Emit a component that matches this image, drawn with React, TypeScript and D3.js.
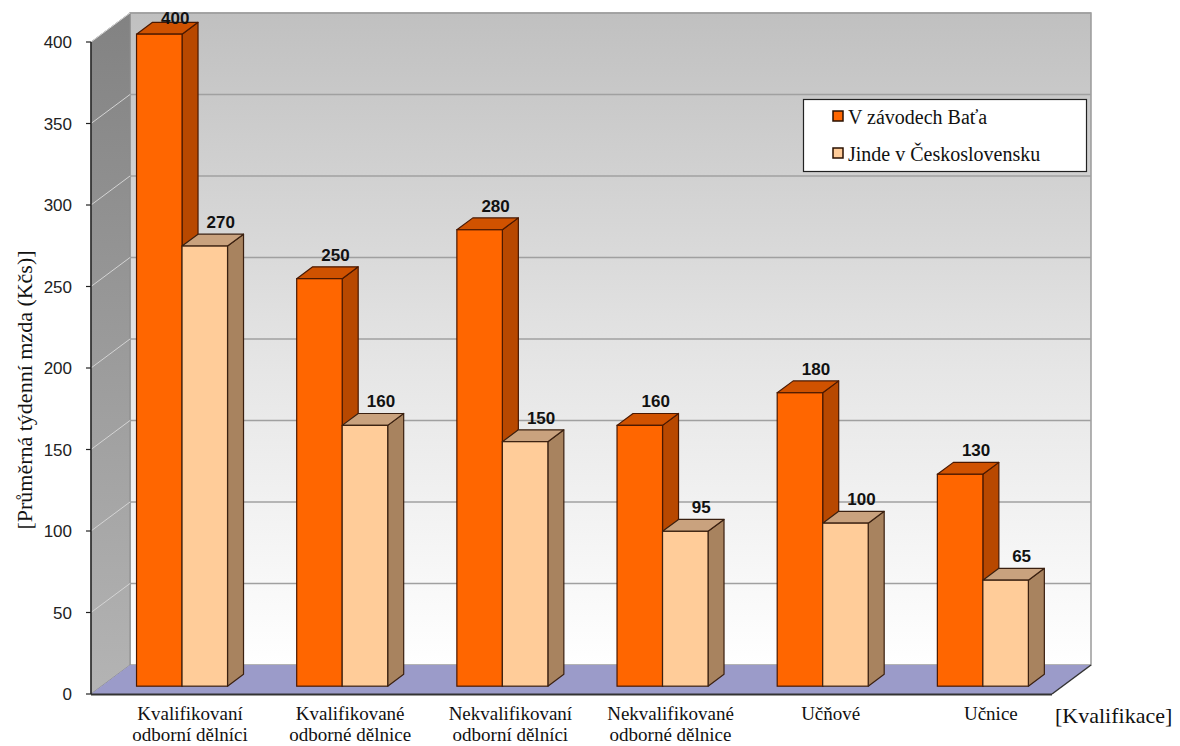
import React from "react";
import * as d3 from "d3";

const categoryLabels: string[][] = [
  ["Kvalifikovaní", "odborní dělníci"],
  ["Kvalifikované", "odborné dělnice"],
  ["Nekvalifikovaní", "odborní dělníci"],
  ["Nekvalifikované", "odborné dělnice"],
  ["Učňové"],
  ["Učnice"],
];
const seriesNames = ["V závodech Baťa", "Jinde v Československu"];
const bataValues = [400, 250, 280, 160, 180, 130];
const elsewhereValues = [270, 160, 150, 95, 100, 65];
const yTicks = [0, 50, 100, 150, 200, 250, 300, 350, 400];
const yTitle = "[Průměrná týdenní mzda (Kčs)]";
const xTitle = "[Kvalifikace]";

const W = 1180;
const H = 746;
const DX = 39;
const DY = -29;
const Z_FRONT = 0.27;
const Z_BACK = 0.68;

const SERIF = { fontFamily: "\"Liberation Serif\", \"Times New Roman\", Times, serif" };
const SANS = { fontFamily: "\"Liberation Sans\", Arial, Helvetica, sans-serif" };

const seriesStyle = [
  { front: "#FF6600", side: "#B84800", top: "#D05200", stroke: "#4a1800" },
  { front: "#FFCC99", side: "#A8835F", top: "#C9A27E", stroke: "#3a2010" },
];

export default function App() {
  const y = d3.scaleLinear().domain([0, 400]).range([694, 42]);
  const idx = categoryLabels.map((_, i) => String(i));
  const xBand = d3.scaleBand<string>().domain(idx).range([91, 1052]).padding(0);
  const xSub = d3.scaleBand<string>().domain(["0", "1"]).range([35, 126]).padding(0);
  const bw = xSub.bandwidth();
  const xL = 91, xR = 1052;
  const y0 = y(0);
  const wallTop = y(400) + DY;
  const series = [bataValues, elsewhereValues];

  const gx = (v: number, z: number) => v + z * DX;
  const gy = (v: number, z: number) => v + z * DY;
  const bdx = (Z_BACK - Z_FRONT) * DX;
  const bdy = (Z_BACK - Z_FRONT) * DY;
  const pts = (p: number[][]) => p.map((q) => q.join(",")).join(" ");

  const bars: any[] = [];
  const labels: any[] = [];
  idx.forEach((c, i) => {
    series.forEach((vals, k) => {
      const v = vals[i];
      const st = seriesStyle[k];
      const xl = gx((xBand(c) as number) + (xSub(String(k)) as number), Z_FRONT);
      const xr = xl + bw;
      const yt = gy(y(v), Z_FRONT);
      const yb = gy(y0, Z_FRONT);
      const side = [[xr, yt], [xr + bdx, yt + bdy], [xr + bdx, yb + bdy], [xr, yb]];
      const top = [[xl, yt], [xl + bdx, yt + bdy], [xr + bdx, yt + bdy], [xr, yt]];
      bars.push(
        <g key={`b${i}-${k}`}>
          <polygon points={pts(side)} fill={st.side} stroke={st.stroke} strokeWidth={1.2} strokeLinejoin="round" />
          <polygon points={pts(top)} fill={st.top} stroke={st.stroke} strokeWidth={1.2} strokeLinejoin="round" />
          <rect x={xl} y={yt} width={bw} height={yb - yt} fill={st.front} stroke={st.stroke} strokeWidth={1.2} />
        </g>
      );
      const backTop = yt + bdy;
      labels.push(
        <text
          key={`l${i}-${k}`}
          x={xl + bw / 2 + bdx}
          y={Math.max(backTop - 6, wallTop + 11)}
          textAnchor="middle"
          style={SANS}
          fontWeight="bold"
          fontSize={17}
          fill="#111"
        >
          {v}
        </text>
      );
    });
  });

  const floor = [[xL, y0], [xR, y0], [xR + DX, y0 + DY], [xL + DX, y0 + DY]];
  const leftWall = [[xL, y(400)], [xL + DX, wallTop], [xL + DX, y0 + DY], [xL, y0]];

  return (
    <svg width={W} height={H} style={{ position: "absolute", left: 0, top: 0, background: "#fff" }}>
      <defs>
        <linearGradient id="backWall" x1="0" y1="0" x2="0" y2="1">
          <stop offset="0" stopColor="#c0c0c0" />
          <stop offset="0.55" stopColor="#e6e6e6" />
          <stop offset="1" stopColor="#ffffff" />
        </linearGradient>
        <linearGradient id="leftWall" x1="0" y1="0" x2="0" y2="1">
          <stop offset="0" stopColor="#828282" />
          <stop offset="1" stopColor="#b4b4b4" />
        </linearGradient>
      </defs>
      <rect x={xL + DX} y={wallTop} width={xR - xL} height={y0 + DY - wallTop} fill="url(#backWall)" stroke="#9a9a9a" strokeWidth={1.5} />
      <polygon points={pts(leftWall)} fill="url(#leftWall)" stroke="#8a8a8a" strokeWidth={1} />
      {yTicks.slice(1).map((t) => (
        <g key={`g${t}`}>
          <line x1={xL + DX} x2={xR + DX} y1={y(t) + DY} y2={y(t) + DY} stroke="#a0a0a0" strokeWidth={1.5} />
          <line x1={xL} x2={xL + DX} y1={y(t)} y2={y(t) + DY} stroke="#d4d4d4" strokeWidth={1} />
        </g>
      ))}
      <polygon points={pts(floor)} fill="#9b9bc9" stroke="none" />
      <line x1={xR} y1={y0} x2={xR + DX} y2={y0 + DY} stroke="#333" strokeWidth={1.5} />
      <line x1={xL} y1={y0 + 0.5} x2={xR} y2={y0 + 0.5} stroke="#333" strokeWidth={2} />
      <line x1={xL} x2={xL} y1={y(400)} y2={y0} stroke="#222" strokeWidth={1.5} />
      {yTicks.map((t) => (
        <g key={`t${t}`}>
          <line x1={xL - 5} x2={xL} y1={y(t)} y2={y(t)} stroke="#222" strokeWidth={1.2} />
          <text x={72} y={y(t) + 6} textAnchor="end" style={SANS} fontSize={17} fill="#222">
            {t}
          </text>
        </g>
      ))}
      {bars}
      {labels}
      {categoryLabels.map((lines, i) => {
        const cx = gx((xBand(String(i)) as number) + 35 + bw, Z_FRONT) + 8;
        return (
          <text key={`c${i}`} textAnchor="middle" style={SERIF} fontSize={19} fill="#111">
            {lines.map((ln, j) => (
              <tspan key={j} x={cx} y={720 + j * 21}>
                {ln}
              </tspan>
            ))}
          </text>
        );
      })}
      <text x={1055} y={723} style={SERIF} fontSize={22} fill="#111">
        {xTitle}
      </text>
      <text transform={`translate(32,390) rotate(-90)`} textAnchor="middle" style={SERIF} fontSize={22} fill="#111">
        {yTitle}
      </text>
      <g>
        <rect x={803.5} y={99.5} width={283} height={72} fill="#fff" stroke="#222" strokeWidth={1.2} />
        {seriesNames.map((nm, k) => (
          <g key={`lg${k}`}>
            <rect x={833} y={111 + k * 37} width={10} height={10} fill={seriesStyle[k].front} stroke="#2a1000" strokeWidth={1.5} />
            <text x={848} y={124 + k * 37} style={SERIF} fontSize={20} fill="#111">
              {nm}
            </text>
          </g>
        ))}
      </g>
    </svg>
  );
}
